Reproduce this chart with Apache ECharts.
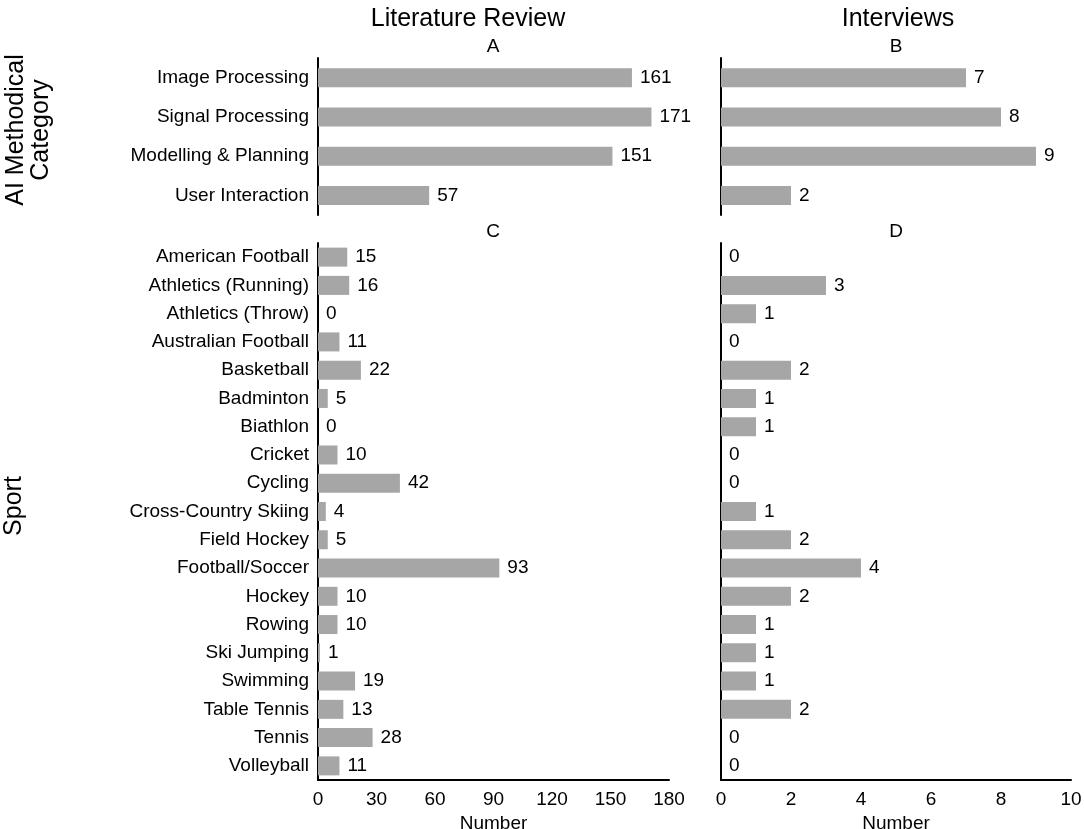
<!DOCTYPE html>
<html>
<head>
<meta charset="utf-8">
<script src="https://cdn.jsdelivr.net/npm/echarts@6/dist/echarts.min.js"></script>
<style>
  html, body { margin: 0; padding: 0; background: #fff; }
  #main { width: 1084px; height: 829px; }
</style>
</head>
<body>
<div id="main"></div>
<script>
// AI methodical categories
var aiCats = ['Image Processing', 'Signal Processing', 'Modelling & Planning', 'User Interaction'];
var litAI = [161, 171, 151, 57];
var intAI = [7, 8, 9, 2];

// sports
var sports = ['American Football', 'Athletics (Running)', 'Athletics (Throw)', 'Australian Football',
	'Basketball', 'Badminton', 'Biathlon', 'Cricket', 'Cycling', 'Cross-Country Skiing',
	'Field Hockey', 'Football/Soccer', 'Hockey', 'Rowing', 'Ski Jumping', 'Swimming',
	'Table Tennis', 'Tennis', 'Volleyball'];
var litSport = [15, 16, 0, 11, 22, 5, 0, 10, 42, 4, 5, 93, 10, 10, 1, 19, 13, 28, 11];
var intSport = [0, 3, 1, 0, 2, 1, 1, 0, 0, 1, 2, 4, 2, 1, 1, 1, 2, 0, 0];

// x axis ranges
var litMax = 180, litStep = 30;
var intMax = 10, intStep = 2;

var FONT = "'Liberation Sans', Arial, Helvetica, sans-serif";
var FS = 19;
var barColor = '#a6a6a6';

var myChart = echarts.init(document.getElementById('main'));

function xAxis(idx, max, step, showAxis) {
	return {
		type : 'value',
		gridIndex : idx,
		min : 0,
		max : max,
		interval : step,
		show : showAxis,
		splitLine : { show : false },
		axisTick : { show : false },
		axisLine : { show : true, lineStyle : { color : '#000', width : 2 } },
		axisLabel : { color : '#000', fontSize : FS, fontFamily : FONT, margin : 10 },
		name : 'Number',
		nameLocation : 'middle',
		nameGap : 30,
		nameTextStyle : { color : '#000', fontSize : FS, fontFamily : FONT }
	};
}

function yAxis(idx, data, showLabel) {
	return {
		type : 'category',
		gridIndex : idx,
		data : data,
		inverse : true,
		axisTick : { show : false },
		axisLine : { show : true, lineStyle : { color : '#000', width : 2 } },
		axisLabel : { show : showLabel, color : '#000', fontSize : FS, fontFamily : FONT, margin : 9 }
	};
}

function barSeries(idx, data) {
	return {
		type : 'bar',
		xAxisIndex : idx,
		yAxisIndex : idx,
		data : data,
		barWidth : 19,
		itemStyle : { color : barColor },
		label : {
			show : true,
			position : 'right',
			distance : 8,
			color : '#000',
			fontSize : FS,
			fontFamily : FONT
		},
		animation : false
	};
}

function txt(x, y, s, size, rot) {
	return {
		type : 'text',
		x : x,
		y : y,
		rotation : rot || 0,
		style : {
			text : s,
			fill : '#000',
			font : size + 'px ' + FONT,
			align : 'center',
			verticalAlign : 'middle'
		}
	};
}

var option = {
	backgroundColor : '#fff',
	grid : [
		{ left : 318, width : 351, top : 58, height : 157, outerBoundsMode : 'none' },
		{ left : 721, width : 350, top : 58, height : 157, outerBoundsMode : 'none' },
		{ left : 318, width : 351, top : 243, height : 537, outerBoundsMode : 'none' },
		{ left : 721, width : 350, top : 243, height : 537, outerBoundsMode : 'none' }
	],
	xAxis : [
		xAxis(0, litMax, litStep, false),
		xAxis(1, intMax, intStep, false),
		xAxis(2, litMax, litStep, true),
		xAxis(3, intMax, intStep, true)
	],
	yAxis : [
		yAxis(0, aiCats, true),
		yAxis(1, aiCats, false),
		yAxis(2, sports, true),
		yAxis(3, sports, false)
	],
	series : [
		barSeries(0, litAI),
		barSeries(1, intAI),
		barSeries(2, litSport),
		barSeries(3, intSport)
	],
	graphic : [
		txt(468, 19, 'Literature Review', 25),
		txt(898, 19, 'Interviews', 25),
		txt(493, 47, 'A', FS),
		txt(896, 47, 'B', FS),
		txt(493, 232, 'C', FS),
		txt(896, 232, 'D', FS),
		txt(16, 130, 'AI Methodical', 25, Math.PI / 2),
		txt(41, 130, 'Category', 25, Math.PI / 2),
		txt(14, 506, 'Sport', 25, Math.PI / 2)
	]
};
myChart.setOption(option);
</script>
</body>
</html>
